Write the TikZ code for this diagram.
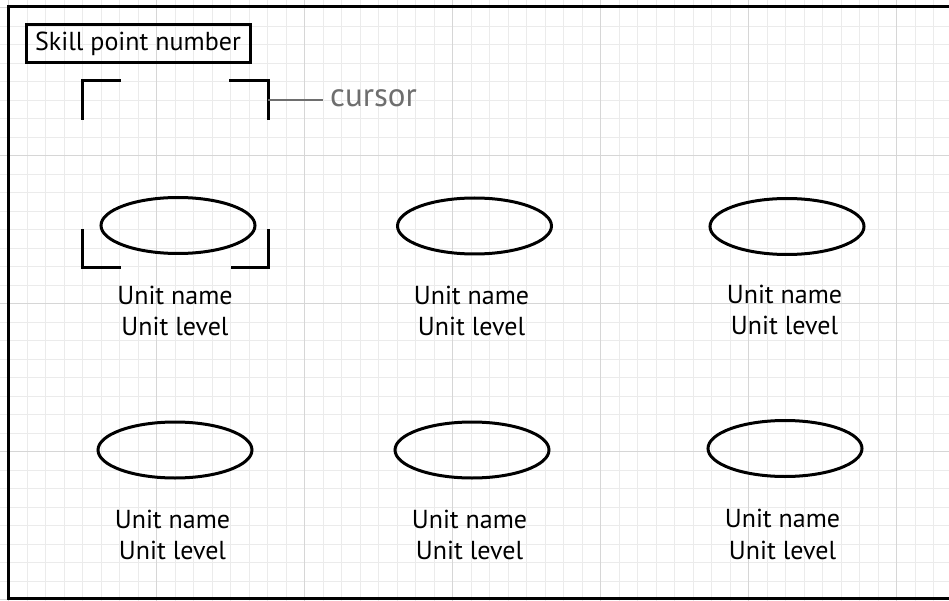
\documentclass[tikz,border=0pt]{standalone}
\usepackage{fontspec}
\setmainfont{PT Sans}
\usetikzlibrary{shapes.geometric}
\definecolor{minorgrid}{HTML}{EBEBEB}
\definecolor{majorgrid}{HTML}{D6D6D6}
\definecolor{cursorgray}{HTML}{6E6E6E}
\tikzset{
  unit/.style={draw=black, line width=3pt, ellipse, minimum width=154pt, minimum height=56pt, inner sep=0pt},
  unitlabel/.style={align=center, font=\fontsize{26}{31.5}\selectfont, inner sep=0pt},
  bracket/.style={draw=black, line width=3pt, line cap=butt},
  titlebox/.style={draw=black, line width=3pt, font=\fontsize{26}{30}\selectfont, inner sep=0pt, minimum width=224pt, minimum height=38pt},
}
\begin{document}
\begin{tikzpicture}[x=1pt, y=-1pt]
\useasboundingbox (0,0) rectangle (949,601);
\fill[white] (0,0) rectangle (949,601);
% grid
\foreach \i in {0,...,50} {
  \draw[minorgrid, line width=1pt] ({8.7+18.5*\i},0) -- ({8.7+18.5*\i},601);
}
\foreach \j in {0,...,32} {
  \draw[minorgrid, line width=1pt] (0,{7.7+18.5*\j}) -- (949,{7.7+18.5*\j});
}
\foreach \i in {0,...,6} {
  \draw[majorgrid, line width=1pt] ({8.7+148*\i},0) -- ({8.7+148*\i},601);
}
\foreach \j in {0,...,4} {
  \draw[majorgrid, line width=1pt] (0,{7.7+148*\j}) -- (949,{7.7+148*\j});
}
% frame
\draw[black, line width=3pt] (949,7) -- (8,7) -- (8,598) -- (949,598);
% title
\node[titlebox] (title) at (138,44) {Skill point number};
% units
\node[unit] (u1) at (178,225.5) {};
\node[unit] (u2) at (474.5,226) {};
\node[unit] (u3) at (787,226.5) {};
\node[unit] (u4) at (175,450) {};
\node[unit] (u5) at (472,450) {};
\node[unit] (u6) at (785,448.5) {};
\node[unitlabel] (l1) at (175,311) {Unit name\\Unit level};
\node[unitlabel] (l2) at (471.5,311) {Unit name\\Unit level};
\node[unitlabel] (l3) at (784.5,310) {Unit name\\Unit level};
\node[unitlabel] (l4) at (172.5,535) {Unit name\\Unit level};
\node[unitlabel] (l5) at (469.5,535) {Unit name\\Unit level};
\node[unitlabel] (l6) at (782.5,534.5) {Unit name\\Unit level};
% cursor brackets
\coordinate (ctl) at (82,81);
\coordinate (ctr) at (268,81);
\coordinate (cbl) at (82,268);
\coordinate (cbr) at (268,268);
\draw[bracket] ([yshift=-39pt]ctl) -- (ctl) -- ([xshift=39pt]ctl);
\draw[bracket] ([xshift=-39pt]ctr) -- (ctr) -- ([yshift=-39pt]ctr);
\draw[bracket] ([yshift=39pt]cbl) -- (cbl) -- ([xshift=39pt]cbl);
\draw[bracket] ([xshift=-37pt]cbr) -- (cbr) -- ([yshift=39pt]cbr);
% cursor label
\node[text=cursorgray, font=\fontsize{33}{36}\selectfont, anchor=west, inner sep=0pt] (cursor) at (330,98) {cursor};
\coordinate (cmid) at (268,100);
\draw[cursorgray, line width=2.5pt] (cmid) -- ([xshift=-7pt]cursor.west |- cmid);
\end{tikzpicture}
\end{document}
